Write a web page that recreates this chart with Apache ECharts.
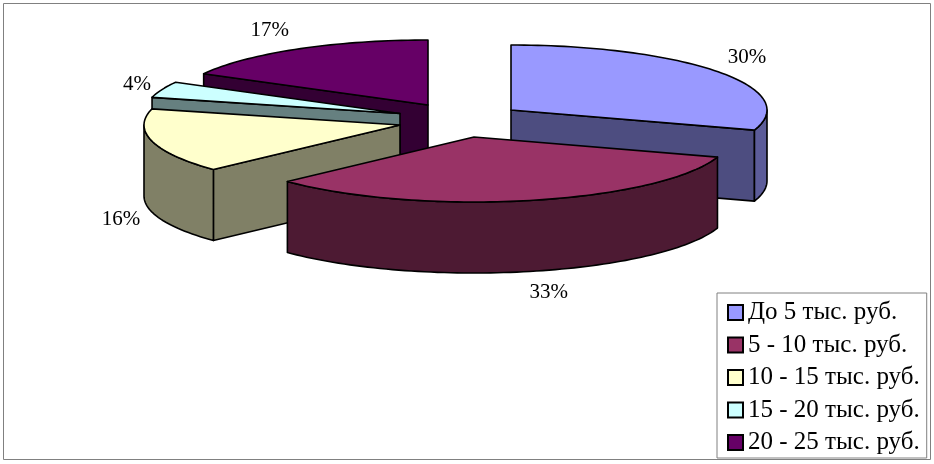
<!DOCTYPE html>
<html>
<head>
<meta charset="utf-8">
<style>html,body{margin:0;padding:0;background:#fff}#c{width:934px;height:464px}</style>
<script src="https://cdn.jsdelivr.net/npm/echarts@6/dist/echarts.min.js"></script>
</head>
<body>
<div id="c"></div>
<script>
const categories = ['До 5 тыс. руб.', '5 - 10 тыс. руб.', '10 - 15 тыс. руб.', '15 - 20 тыс. руб.', '20 - 25 тыс. руб.'];
const shares = [30, 33, 16, 4, 17];
const topColors = ['#9999FF', '#993366', '#FFFFCC', '#CCFFFF', '#660066'];
const faceColors = ['#4D4D80', '#4D1A33', '#808066', '#668080', '#330033'];
const rimColors = ['#5C5C99', '#4D1A33', '#808066', '#668080', '#330033'];

// Projection of the tilted pie: ellipse radii, extrusion depth, and each slice's exploded apex.
const RX = 256, RY = 65, DEPTH = 71;
const apex = [[511, 110], [474, 137], [400, 125], [400, 113.5], [428, 105]];
const labelShift = [[29, -14], [19, 92], [-31, 78], [-25, -5], [-28, -19]];
const stacking = [4, 5, 3, 2, 1];

const total = shares.reduce((a, b) => a + b, 0);
const rad = d => d * Math.PI / 180;
function rimPoint(c, deg, drop) {
  return [c[0] + Math.sin(rad(deg)) * RX, c[1] - Math.cos(rad(deg)) * RY + (drop || 0)];
}
function arc(c, a, b, drop) {
  const pts = [], n = Math.max(2, Math.ceil(Math.abs(b - a) / 1.5));
  for (let i = 0; i <= n; i++) pts.push(rimPoint(c, a + (b - a) * i / n, drop));
  return pts;
}
const lineStyle = (fill) => ({ fill, stroke: '#000', lineWidth: 1.6, lineJoin: 'round' });

function renderSlice(index) {
  return function (params, api) {
    const value = api.value(0);
    const before = shares.slice(0, index).reduce((a, b) => a + b, 0);
    const start = before / total * 360, end = start + value / total * 360;
    const c = apex[index], children = [];
    const face = (deg) => {
      const p = rimPoint(c, deg);
      children.push({ type: 'polygon', shape: { points: [c, p, [p[0], p[1] + DEPTH], [c[0], c[1] + DEPTH]] }, style: lineStyle(faceColors[index]) });
    };
    if (Math.sin(rad(start)) < -1e-6) face(start);
    if (Math.sin(rad(end)) > 1e-6) face(end);
    const a = Math.max(start, 90), b = Math.min(end, 270);
    if (b > a) {
      const upper = arc(c, a, b, 0), lower = arc(c, a, b, DEPTH).reverse();
      children.push({ type: 'polygon', shape: { points: upper.concat(lower) }, style: lineStyle(rimColors[index]) });
    }
    children.push({ type: 'polygon', shape: { points: [c].concat(arc(c, start, end, 0)) }, style: lineStyle(topColors[index]) });
    const mid = rimPoint(c, (start + end) / 2);
    children.push({
      type: 'text',
      style: {
        x: mid[0] + labelShift[index][0], y: mid[1] + labelShift[index][1],
        text: value + '%', fill: '#000', align: 'center', verticalAlign: 'middle',
        font: '21px "Liberation Serif"'
      }
    });
    return { type: 'group', children };
  };
}

const chart = echarts.init(document.getElementById('c'), null, { renderer: 'canvas' });
chart.setOption({
  animation: false,
  backgroundColor: '#fff',
  graphic: [{ type: 'rect', z: -1, shape: { x: 3.5, y: 3.5, width: 927, height: 456 }, style: { fill: '#fff', stroke: '#808080', lineWidth: 1 } }],
  legend: {
    left: 717, top: 293, orient: 'vertical', icon: 'rect',
    itemWidth: 15, itemHeight: 15, itemGap: 7.5,
    padding: [7, 7, 3, 10],
    data: categories,
    backgroundColor: '#fff', borderColor: '#808080', borderWidth: 1,
    selectedMode: false,
    textStyle: { fontFamily: 'Liberation Serif', fontSize: 25, lineHeight: 25, color: '#000' }
  },
  series: categories.map((name, i) => ({
    type: 'custom', name, coordinateSystem: 'none', silent: true, z: stacking[i],
    itemStyle: { color: topColors[i], borderColor: '#000', borderWidth: 2 },
    data: [[shares[i]]],
    renderItem: renderSlice(i)
  }))
});
</script>
</body>
</html>
